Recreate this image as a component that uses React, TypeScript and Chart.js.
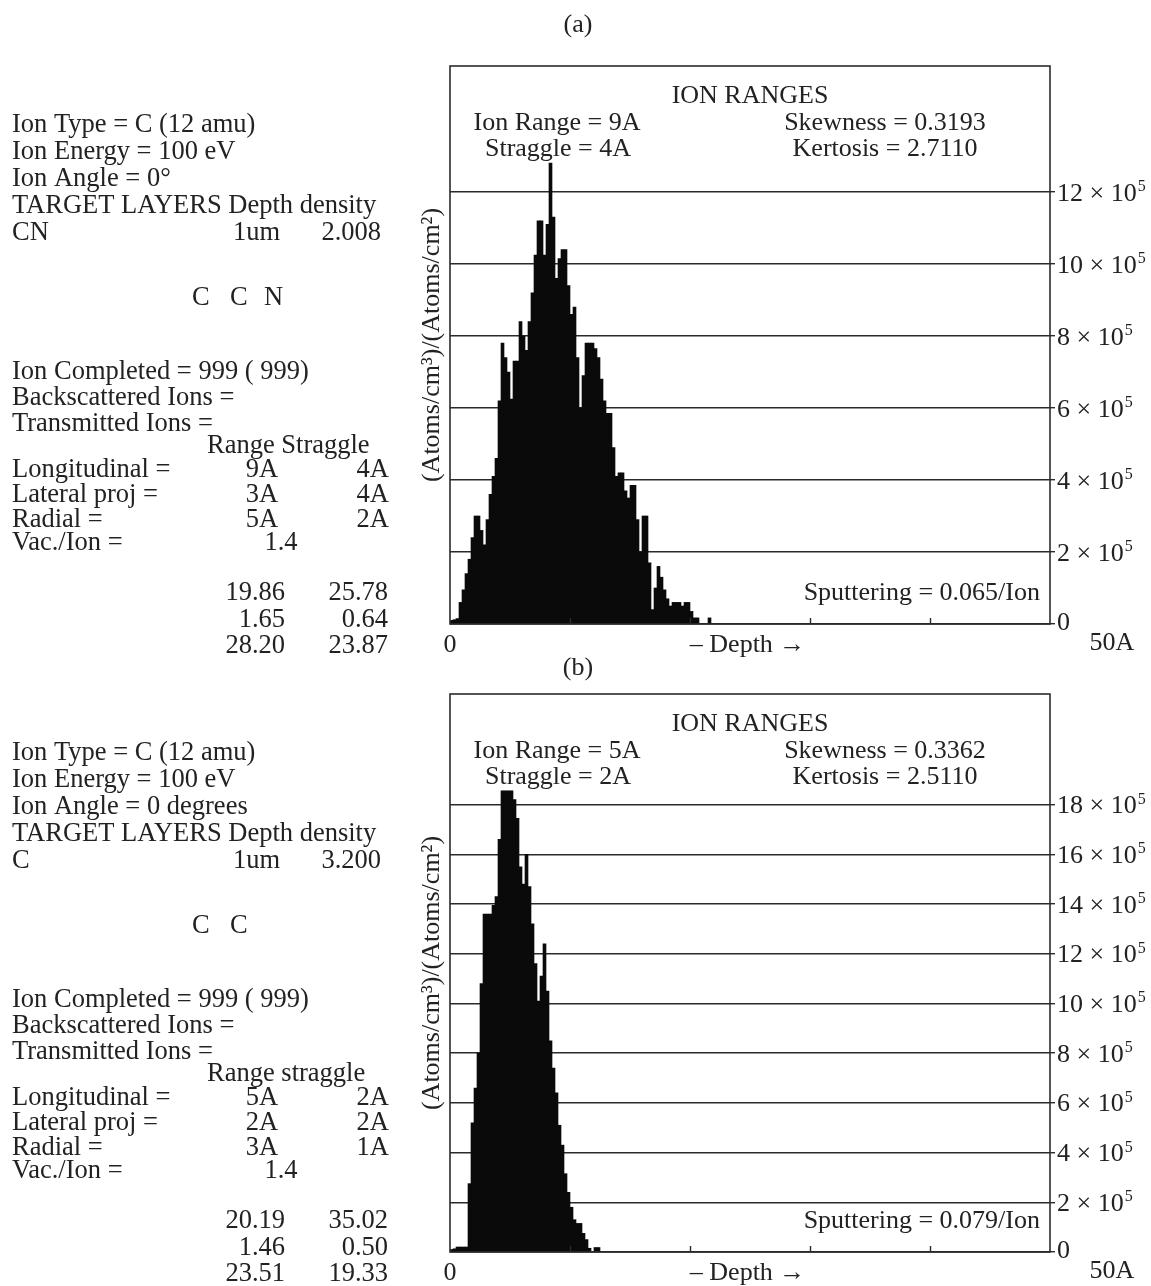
import React, { useEffect, useRef } from "react";
import { Chart, registerables } from "chart.js";

Chart.register(...registerables);

// ---------------- data ----------------
const BIN_COUNT = 200; // 0–50 Å depth, 0.25 Å per bin
const DEPTH_MAX = 50;
const depthTicks = [0, 10, 20, 30, 40, 50];

// (a) C ions into CN — density per bin, in units of 1e5 (Atoms/cm3)/(Atoms/cm2)
const densityA = [
  0.1, 0.12, 0.15, 0.6, 0.95, 1.4, 1.8, 2.4, 3.0, 3.0,
  2.6, 2.2, 2.9, 3.6, 4.1, 4.6, 6.2, 7.8, 7.4, 7.0,
  6.25, 7.3, 7.3, 8.4, 8.0, 7.6, 8.4, 9.2, 10.25, 11.2,
  11.2, 10.25, 11.1, 12.8, 11.3, 9.6, 10.15, 10.4, 10.4, 9.4,
  8.6, 8.8, 7.4, 6.0, 6.9, 7.8, 7.8, 7.8, 7.65, 7.4,
  6.8, 6.2, 5.85, 5.85, 4.9, 4.1, 4.2, 4.2, 3.7, 3.5,
  3.85, 3.85, 2.9, 2.0, 3.0, 3.0, 1.7, 0.4, 1.0, 1.6,
  1.3, 0.95, 0.7, 0.5, 0.6, 0.6, 0.6, 0.5, 0.6, 0.6,
  0.35, 0.17, 0.17, 0, 0, 0, 0.17, 0,
];

// (b) C ions into C
const densityB = [
  0.1, 0.13, 0.2, 0.2, 0.2, 0.2, 2.75, 5.2, 6.6, 8.0,
  10.8, 13.6, 13.6, 13.6, 13.95, 14.3, 16.6, 18.55, 18.55, 18.55,
  18.55, 18.2, 17.45, 15.5, 14.8, 16.0, 14.7, 13.2, 11.6, 10.1,
  11.1, 12.4, 10.5, 8.5, 7.4, 6.4, 5.1, 4.3, 3.15, 2.4,
  1.8, 1.3, 1.15, 1.15, 0.75, 0.5, 0.15, 0, 0.18, 0.18,
];

const yTicksA = [0, 2, 4, 6, 8, 10, 12];
const yTicksB = [0, 2, 4, 6, 8, 10, 12, 14, 16, 18];
const yMaxA = 15.5;
const yMaxB = 22.45;

// text content
const infoA = ["Ion Type = C (12 amu)", "Ion Energy = 100 eV", "Ion Angle = 0°", "TARGET LAYERS Depth density"];
const infoB = ["Ion Type = C (12 amu)", "Ion Energy = 100 eV", "Ion Angle = 0 degrees", "TARGET LAYERS Depth density"];
const layerA = ["CN", "1um", "2.008"];
const layerB = ["C", "1um", "3.200"];
const elementsA = ["C", "C", "N"];
const elementsB = ["C", "C"];
const countLines = ["Ion Completed = 999 ( 999)", "Backscattered Ions =", "Transmitted Ions ="];
const rangeHeaderA = "Range Straggle";
const rangeHeaderB = "Range straggle";
const rowLabels = ["Longitudinal =", "Lateral proj =", "Radial ="];
const rangeA = ["9A", "3A", "5A"];
const straggleA = ["4A", "4A", "2A"];
const rangeB = ["5A", "2A", "3A"];
const straggleB = ["2A", "2A", "1A"];
const vacLabel = "Vac./Ion =";
const vacA = "1.4";
const vacB = "1.4";
const extra1A = ["19.86", "1.65", "28.20"];
const extra2A = ["25.78", "0.64", "23.87"];
const extra1B = ["20.19", "1.46", "23.51"];
const extra2B = ["35.02", "0.50", "19.33"];
const statsA = ["Ion Range = 9A", "Straggle = 4A", "Skewness = 0.3193", "Kertosis = 2.7110", "Sputtering = 0.065/Ion"];
const statsB = ["Ion Range = 5A", "Straggle = 2A", "Skewness = 0.3362", "Kertosis = 2.5110", "Sputtering = 0.079/Ion"];

const binLabels = Array.from({ length: BIN_COUNT }, (_, i) => ((i + 0.5) * DEPTH_MAX / BIN_COUNT).toFixed(3));

// ---------------- styles ----------------
const SERIF = "'Liberation Serif', 'Times New Roman', serif";
const TEXT = "#222";
const LINE = "#2b2b2b";
const CANVAS_W = 1151;
const CANVAS_H = 658;

type PanelCfg = {
  top: number;
  tag: string;
  tagBaseline: number;
  density: number[];
  yTicks: number[];
  yMax: number;
  info: string[];
  layer: string[];
  elements: string[];
  rangeHeader: string;
  range: string[];
  straggle: string[];
  vac: string;
  extra1: string[];
  extra2: string[];
  stats: string[];
};

const panels: PanelCfg[] = [
  {
    top: 0, tag: "(a)", tagBaseline: 32, density: densityA, yTicks: yTicksA, yMax: yMaxA,
    info: infoA, layer: layerA, elements: elementsA, rangeHeader: rangeHeaderA,
    range: rangeA, straggle: straggleA, vac: vacA, extra1: extra1A, extra2: extra2A, stats: statsA,
  },
  {
    top: 628, tag: "(b)", tagBaseline: 47, density: densityB, yTicks: yTicksB, yMax: yMaxB,
    info: infoB, layer: layerB, elements: elementsB, rangeHeader: rangeHeaderB,
    range: rangeB, straggle: straggleB, vac: vacB, extra1: extra1B, extra2: extra2B, stats: statsB,
  },
];

function makeOverlay(p: PanelCfg) {
  return {
    id: "overlay",
    afterDraw(chart: any) {
      const ctx: CanvasRenderingContext2D = chart.ctx;
      const { left, right, top, bottom } = chart.chartArea;
      const yScale = chart.scales.y;
      const xScale = chart.scales.x;
      // depth (Å) -> pixel through the category scale's bin geometry
      const c0 = xScale.getPixelForValue(0);
      const binW = xScale.getPixelForValue(1) - c0;
      const edge0 = c0 - binW / 2;
      const binDepth = DEPTH_MAX / BIN_COUNT;
      const dx = (v: number) => edge0 + (v / binDepth) * binW;
      const f = (size: number) => `${size}px ${SERIF}`;

      ctx.save();
      // frame
      ctx.strokeStyle = LINE;
      ctx.lineWidth = 1.6;
      ctx.strokeRect(left, top, right - left, bottom - top);
      // inward depth ticks
      ctx.lineWidth = 1.4;
      depthTicks.slice(1, -1).forEach((t) => {
        const x = Math.round(dx(t)) + 0.5;
        ctx.beginPath();
        ctx.moveTo(x, bottom);
        ctx.lineTo(x, bottom - 6);
        ctx.stroke();
      });

      ctx.fillStyle = TEXT;
      ctx.textBaseline = "alphabetic";

      // right axis labels
      ctx.textAlign = "left";
      p.yTicks.forEach((v) => {
        const py = yScale.getPixelForValue(v);
        ctx.font = f(26);
        if (v === 0) {
          ctx.fillText("0", right + 7, py + 6);
          return;
        }
        const base = `${v} × 10`;
        ctx.fillText(base, right + 7, py + 8.5);
        const w = ctx.measureText(base).width;
        ctx.font = f(16);
        ctx.fillText("5", right + 8 + w, py - 1);
      });

      // y-axis title
      ctx.save();
      ctx.translate(left - 18, top + 279);
      ctx.rotate(-Math.PI / 2);
      ctx.textAlign = "center";
      ctx.textBaseline = "middle";
      ctx.font = f(26);
      ctx.fillText("(Atoms/cm³)/(Atoms/cm²)", 0, 0);
      ctx.restore();

      // panel tag
      ctx.font = f(26);
      ctx.textAlign = "center";
      ctx.fillText(p.tag, 578, p.tagBaseline);

      // in-plot texts
      ctx.fillText("ION RANGES", left + 300, top + 37);
      ctx.fillText(p.stats[0], left + 107, top + 64);
      ctx.fillText(p.stats[1], left + 108, top + 90);
      ctx.fillText(p.stats[2], left + 435, top + 64);
      ctx.fillText(p.stats[3], left + 435, top + 90);
      ctx.textAlign = "right";
      ctx.fillText(p.stats[4], right - 10, bottom - 24);

      // depth axis labels
      ctx.textAlign = "center";
      ctx.fillText("0", dx(0), bottom + 28);
      ctx.fillText("– Depth →", dx(24.8), bottom + 28);
      ctx.fillText("50A", right + 62, bottom + 26);

      // left info block
      const L = 12;
      ctx.font = f(26.5);
      ctx.textAlign = "left";
      p.info.forEach((s, i) => ctx.fillText(s, L, 132 + 27 * i));
      ctx.fillText(p.layer[0], L, 240);
      ctx.fillText(p.layer[1], 233, 240);
      ctx.textAlign = "right";
      ctx.fillText(p.layer[2], 381, 240);
      ctx.textAlign = "left";
      const elX = [192, 230, 264];
      p.elements.forEach((e, i) => ctx.fillText(e, elX[i], 305));
      countLines.forEach((s, i) => ctx.fillText(s, L, 379 + 26 * i));
      ctx.fillText(p.rangeHeader, 207, 453);
      const rowY = [477, 502, 527];
      rowLabels.forEach((s, i) => {
        ctx.textAlign = "left";
        ctx.fillText(s, L, rowY[i]);
        ctx.textAlign = "center";
        ctx.fillText(p.range[i], 262, rowY[i]);
        ctx.textAlign = "right";
        ctx.fillText(p.straggle[i], 389, rowY[i]);
      });
      ctx.textAlign = "left";
      ctx.fillText(vacLabel, L, 550);
      ctx.textAlign = "center";
      ctx.fillText(p.vac, 281, 550);
      const exY = [600, 627, 653];
      p.extra1.forEach((s, i) => {
        ctx.textAlign = "right";
        ctx.fillText(s, 285, exY[i]);
        ctx.fillText(p.extra2[i], 388, exY[i]);
      });
      ctx.restore();
    },
  };
}

function Panel({ cfg }: { cfg: PanelCfg }) {
  const ref = useRef<HTMLCanvasElement | null>(null);
  useEffect(() => {
    if (!ref.current) return;
    const chart = new Chart(ref.current, {
      type: "bar",
      data: {
        labels: binLabels,
        datasets: [
          {
            data: cfg.density,
            backgroundColor: "#0a0a0a",
            borderWidth: 0,
            barPercentage: 1,
            categoryPercentage: 1,
            xAxisID: "x",
            yAxisID: "y",
          },
        ],
      },
      options: {
        animation: false,
        responsive: false,
        maintainAspectRatio: false,
        devicePixelRatio: 1,
        layout: { padding: { left: 450, top: 66, right: 0, bottom: 34 } },
        plugins: {
          legend: { display: false },
          tooltip: { enabled: false },
          title: { display: false },
        },
        scales: {
          x: {
            type: "category",
            display: false,
            offset: true,
            grid: { display: false },
          },
          y: {
            type: "linear",
            position: "right",
            min: 0,
            max: cfg.yMax,
            afterBuildTicks: (s: any) => {
              s.ticks = cfg.yTicks.map((v) => ({ value: v }));
            },
            afterFit: (s: any) => {
              s.width = 101;
            },
            ticks: { display: false },
            grid: { color: LINE, lineWidth: 1.4, drawTicks: true, tickLength: 5 },
            border: { display: false },
          },
        } as any,
      },
      plugins: [makeOverlay(cfg)],
    } as any);
    return () => chart.destroy();
  }, [cfg]);
  return (
    <canvas
      ref={ref}
      width={CANVAS_W}
      height={CANVAS_H}
      style={{ position: "absolute", left: 0, top: cfg.top, width: CANVAS_W, height: CANVAS_H }}
    />
  );
}

export default function App() {
  return (
    <div style={{ position: "absolute", left: 0, top: 0, width: 1151, height: 1286, background: "#fff", overflow: "hidden" }}>
      {panels.map((p) => (
        <Panel key={p.tag} cfg={p} />
      ))}
    </div>
  );
}
